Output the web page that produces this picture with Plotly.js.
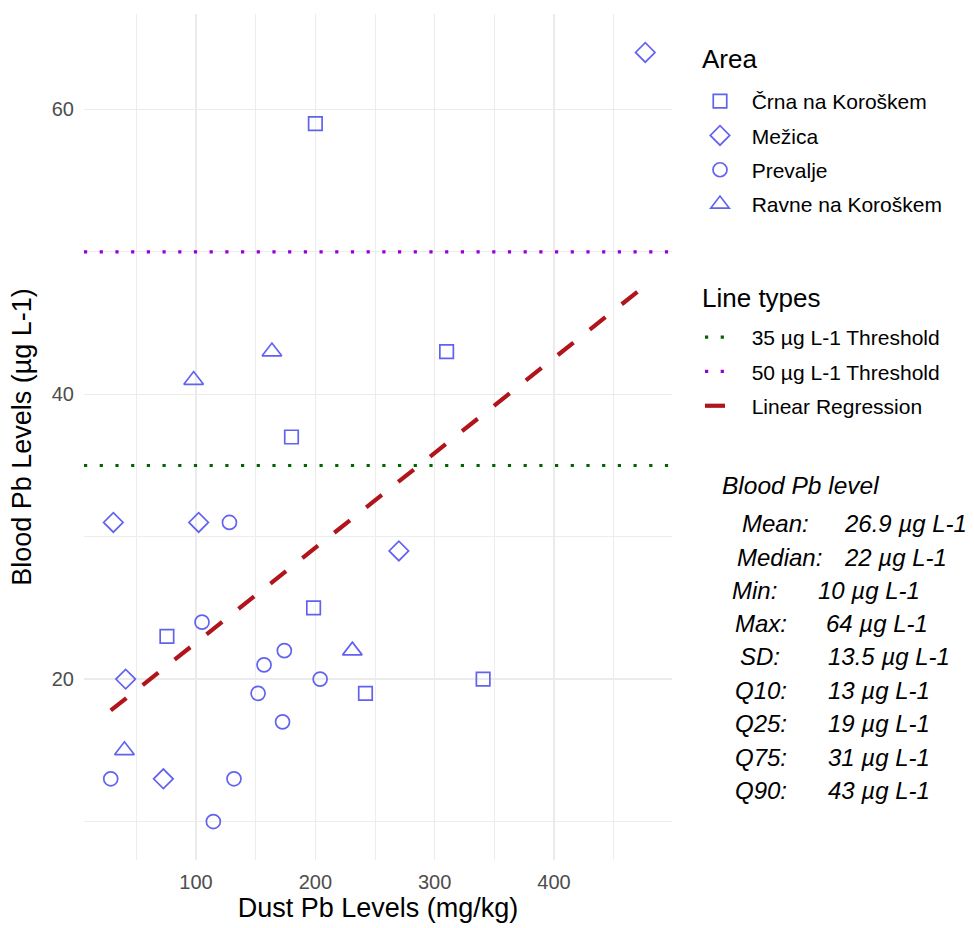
<!DOCTYPE html>
<html>
<head>
<meta charset="utf-8">
<script src="https://cdn.plot.ly/plotly-3.0.1.min.js"></script>
<style>html,body{margin:0;padding:0;background:#fff;}#chart{width:974px;height:928px;}</style>
</head>
<body>
<div id="chart"></div>
<script>
// ---- data ----
const areaNames = ["Črna na Koroškem", "Mežica", "Prevalje", "Ravne na Koroškem"];
const dustCrna = [200, 180, 310, 75.6, 198.5, 242, 340.6];
const bloodCrna = [59, 37, 43, 23, 25, 19, 20];
const dustMezica = [476.5, 30.7, 102.2, 41, 72.6, 270];
const bloodMezica = [64, 31, 31, 20, 13, 29];
const dustPrevalje = [128, 105, 174, 157, 204, 152, 172.5, 28.5, 131.8, 114.5];
const bloodPrevalje = [31, 24, 22, 21, 20, 19, 17, 13, 13, 10];
const dustRavne = [98, 163.6, 231, 40];
const bloodRavne = [41, 43, 22, 15];
const thresholds = [35, 50];
const lineNames = ["35 µg L-1 Threshold", "50 µg L-1 Threshold", "Linear Regression"];
const legendTitles = ["Area", "Line types"];
const statsTitle = "Blood Pb level";
const statLabels = ["Mean:", "Median:", "Min:", "Max:", "SD:", "Q10:", "Q25:", "Q75:", "Q90:"];
const statValues = ["26.9 µg L-1", "22 µg L-1", "10 µg L-1", "64 µg L-1", "13.5 µg L-1", "13 µg L-1", "19 µg L-1", "31 µg L-1", "43 µg L-1"];

// ---- layout geometry ----
const W = 974, H = 928;
const M = {l: 84, r: 302, t: 14, b: 68};
const plotW = W - M.l - M.r, plotH = H - M.t - M.b;
const px2x = p => (p - M.l) / plotW;
const py2y = p => (H - M.b - p) / plotH;

const FONT = "Liberation Sans, Arial, sans-serif";
const markerColor = "#6262F0";

const dustAll = [].concat(dustCrna, dustMezica, dustPrevalje, dustRavne);
const bloodAll = [].concat(bloodCrna, bloodMezica, bloodPrevalje, bloodRavne);
const xMin = Math.min(...dustAll), xMax = Math.max(...dustAll);
const yMin = Math.min(...bloodAll), yMax = Math.max(...bloodAll);
const xr = [xMin - 0.05 * (xMax - xMin), xMax + 0.05 * (xMax - xMin)];
const yr = [yMin - 0.05 * (yMax - yMin), yMax + 0.05 * (yMax - yMin)];

// least squares fit (as geom_smooth(method = "lm"))
const n = dustAll.length;
const mx = dustAll.reduce((a, b) => a + b, 0) / n;
const my = bloodAll.reduce((a, b) => a + b, 0) / n;
let sxy = 0, sxx = 0;
for (let i = 0; i < n; i++) { sxy += (dustAll[i] - mx) * (bloodAll[i] - my); sxx += (dustAll[i] - mx) ** 2; }
const slope = sxy / sxx, intercept = my - slope * mx;
const regX = [xMin, xMax];
const regY = regX.map(v => intercept + slope * v);

const pad = "\u00A0\u00A0";
const areaX = [dustCrna, dustMezica, dustPrevalje, dustRavne];
const areaY = [bloodCrna, bloodMezica, bloodPrevalje, bloodRavne];
const symbols = ["square-open", "diamond-open", "circle-open", "triangle-up-open"];
const sizes = [13.5, 15, 14, 17];

const traces = [];
for (let i = 0; i < 4; i++) {
  traces.push({
    type: "scatter", mode: "markers", x: areaX[i], y: areaY[i],
    name: pad + areaNames[i], legend: "legend", legendgroup: "a" + i,
    marker: {symbol: symbols[i], size: sizes[i], color: markerColor, line: {width: 1.7, color: markerColor}},
    hoverinfo: "skip"
  });
}
const thrColors = ["#006400", "#9400D3"];
for (let i = 0; i < 2; i++) {
  traces.push({
    type: "scatter", mode: "lines", x: xr, y: [thresholds[i], thresholds[i]],
    name: pad + lineNames[i], legend: "legend2", legendgroup: "l" + i,
    line: {color: thrColors[i], width: 3.2, dash: "3.2px,12.5px"}, hoverinfo: "skip"
  });
}
traces.push({
  type: "scatter", mode: "lines", x: regX, y: regY,
  name: pad + lineNames[2], legend: "legend2", legendgroup: "l2",
  line: {color: "#B2141C", width: 4.2, dash: "20px,20.8px"}, hoverinfo: "skip"
});

const annotations = [];
const titleY = [59, 298];
for (let i = 0; i < 2; i++) {
  annotations.push({xref: "paper", yref: "paper", x: px2x(700), y: py2y(titleY[i]), xanchor: "left", yanchor: "middle",
    text: legendTitles[i], showarrow: false, font: {size: 26, color: "#000", family: FONT}});
}
annotations.push({xref: "paper", yref: "paper", x: px2x(720), y: py2y(485), xanchor: "left", yanchor: "middle",
  text: "<i>" + statsTitle + "</i>", showarrow: false, font: {size: 24.5, color: "#000", family: FONT}});
const labX = [740, 735, 730, 733, 738, 733, 733, 733, 733];
const valX = [842, 842, 816, 824, 826, 826, 826, 826, 826];
const rowY = [523, 557, 590, 623, 657, 690, 723, 757, 790];
for (let i = 0; i < statLabels.length; i++) {
  annotations.push({xref: "paper", yref: "paper", x: px2x(labX[i]), y: py2y(rowY[i]), xanchor: "left", yanchor: "middle",
    text: "<i>" + statLabels[i] + "</i>", showarrow: false, font: {size: 24, color: "#000", family: FONT}});
  annotations.push({xref: "paper", yref: "paper", x: px2x(valX[i]), y: py2y(rowY[i]), xanchor: "left", yanchor: "middle",
    text: "<i>" + statValues[i] + "</i>", showarrow: false, font: {size: 24, color: "#000", family: FONT}});
}

const grid = {gridcolor: "#EBEBEB", gridwidth: 1.5};
const layout = {
  width: W, height: H, margin: M,
  paper_bgcolor: "#fff", plot_bgcolor: "#fff",
  font: {family: FONT, color: "#000"},
  showlegend: true,
  xaxis: Object.assign({
    range: xr, tick0: 0, dtick: 100, ticks: "", showline: false, zeroline: false, automargin: false,
    tickfont: {size: 20, color: "#4D4D4D"}, ticklabelstandoff: 8,
    minor: {tick0: 0, dtick: 50, showgrid: true, gridcolor: "#EBEBEB", gridwidth: 0.9},
    title: {text: "Dust Pb Levels (mg/kg)", font: {size: 27, color: "#000"}, standoff: 4}
  }, grid),
  yaxis: Object.assign({
    range: yr, tick0: 0, dtick: 20, ticks: "", showline: false, zeroline: false, automargin: false,
    tickfont: {size: 20, color: "#4D4D4D"}, ticklabelstandoff: 9,
    minor: {tick0: 0, dtick: 10, showgrid: true, gridcolor: "#EBEBEB", gridwidth: 0.9},
    title: {text: "Blood Pb Levels (µg L-1)", font: {size: 27, color: "#000"}, standoff: 12}
  }, grid),
  legend: {x: px2x(700), xanchor: "left", y: py2y(81), yanchor: "top",
    font: {size: 21, color: "#000"}, tracegroupgap: 4, bgcolor: "rgba(0,0,0,0)", itemclick: false},
  legend2: {x: px2x(700), xanchor: "left", y: py2y(317), yanchor: "top",
    font: {size: 21, color: "#000"}, tracegroupgap: 4, bgcolor: "rgba(0,0,0,0)", itemclick: false},
  annotations: annotations
};

Plotly.newPlot("chart", traces, layout, {displayModeBar: false, staticPlot: true});
</script>
</body>
</html>
